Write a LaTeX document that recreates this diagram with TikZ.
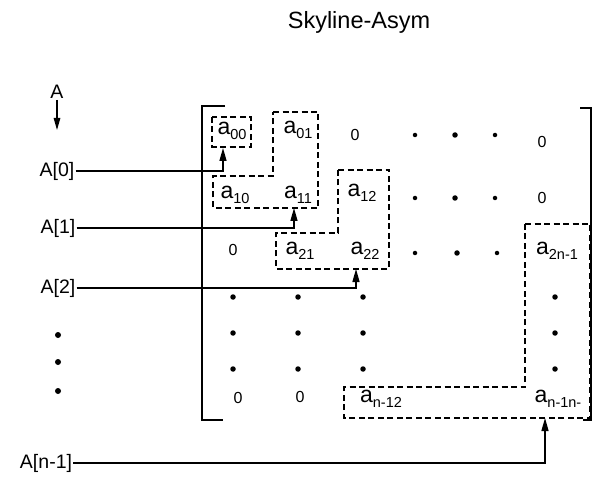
\documentclass[tikz,border=0pt]{standalone}
\usepackage{fontspec}
\setmainfont{Liberation Sans}
\usetikzlibrary{arrows.meta}
\newcommand{\ent}[1]{a{\fontsize{14.5}{14}\selectfont\raisebox{-4.5pt}{#1}}}
\tikzset{
  lbl/.style={inner sep=1pt, font=\fontsize{19.5}{22}\selectfont},
  elem/.style={inner sep=0pt, font=\fontsize{23}{26}\selectfont},
  zero/.style={inner sep=0pt, font=\fontsize{16}{18}\selectfont},
  dotn/.style={circle, fill=black, inner sep=0pt, minimum size=5.5pt},
  dbox/.style={dashed, dash pattern=on 6pt off 3.5pt, line width=1.3pt},
  brk/.style={line width=2pt},
  ptr/.style={line width=1.4pt, -{Triangle[length=13pt,width=7pt]}},
}
\begin{document}
\begin{tikzpicture}[x=1pt,y=-1pt]
\useasboundingbox (0,0) rectangle (602,478);
% title
\node[lbl, font=\fontsize{23.5}{26}\selectfont] (title) at (359,22) {Skyline-Asym};
% left labels
\node[lbl] (A) at (57,92) {A};
\coordinate (Ad) at (57,130);
\draw[line width=1.3pt, -{Triangle[length=12pt,width=6.5pt]}] (A.south) -- (Ad);
\node[lbl] (A0) at (57,171) {A[0]};
\node[lbl] (A1) at (58,228) {A[1]};
\node[lbl] (A2) at (58,288) {A[2]};
\node[dotn, minimum size=6pt] (ld1) at (58,335) {};
\node[dotn, minimum size=6pt] (ld2) at (58,362) {};
\node[dotn, minimum size=6pt] (ld3) at (58,391) {};
\node[lbl] (An) at (46,463) {A[n-1]};
% brackets
\draw[brk] (225,106) -- (202,106) -- (202,420) -- (223,420);
\draw[brk] (580,108) -- (591,108) -- (591,420) -- (583,420);
% row 0
\node[elem] (a00) at (232,131) {\ent{00}};
\node[elem] (a01) at (298,130) {\ent{01}};
\node[zero] (z02) at (355,135) {0};
\node[dotn, minimum size=4.5pt] (d03) at (415,135) {};
\node[dotn] (d04) at (455,135) {};
\node[dotn, minimum size=4.5pt] (d05) at (495,135) {};
\node[zero] (z06) at (542,142) {0};
% row 1
\node[elem] (a10) at (235,195) {\ent{10}};
\node[elem] (a11) at (298,195) {\ent{11}};
\node[elem] (a12) at (362,193) {\ent{12}};
\node[dotn, minimum size=4.5pt] (d13) at (415,198) {};
\node[dotn] (d14) at (455,198) {};
\node[dotn, minimum size=4.5pt] (d15) at (495,198) {};
\node[zero] (z16) at (542,198) {0};
% row 2
\node[zero] (z20) at (233,250) {0};
\node[elem] (a21) at (300,251) {\ent{21}};
\node[elem] (a22) at (365,251) {\ent{22}};
\node[dotn, minimum size=4.5pt] (d23) at (415,253) {};
\node[dotn] (d24) at (457,253) {};
\node[dotn, minimum size=4.5pt] (d25) at (497,253) {};
\node[elem] (a2n) at (557,251) {\ent{2n-1}};
% dot rows
\foreach \yy/\r in {297/3,333/4,369/5}{
  \node[dotn] (d\r0) at (233,\yy) {};
  \node[dotn] (d\r1) at (298,\yy) {};
  \node[dotn] (d\r2) at (363,\yy) {};
  \node[dotn] (d\r6) at (555,\yy) {};
}
% last row
\node[zero] (zl0) at (238,398) {0};
\node[zero] (zl1) at (300,397) {0};
\node[elem] (anl) at (381,399) {\ent{n-12}};
\node[elem] (ann) at (558,399) {\ent{n-1n-}};
% dashed boxes
\draw[dbox] (212,117) rectangle (251,147);
\draw[dbox] (273,112) -- (318,112) -- (318,208) -- (213,208) -- (213,176) -- (273,176) -- cycle;
\draw[dbox] (338,170) -- (389,170) -- (389,269) -- (276,269) -- (276,233) -- (338,233) -- cycle;
\draw[dbox] (525,224) -- (590,224) -- (590,418) -- (344,418) -- (344,387) -- (525,387) -- cycle;
% pointer targets
\coordinate (p0) at (223,148);
\coordinate (p1) at (294,208);
\coordinate (p2) at (356,269);
\coordinate (pn) at (545,418);
\draw[ptr] (A0.east) -| (p0);
\draw[ptr] (A1.east) -| (p1);
\draw[ptr] (A2.east) -| (p2);
\draw[ptr] (An.east) -| (pn);
\end{tikzpicture}
\end{document}
